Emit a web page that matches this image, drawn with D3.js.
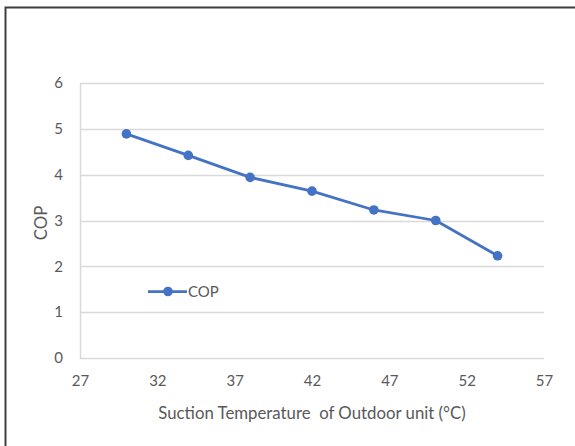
<!DOCTYPE html>
<html>
<head>
<meta charset="utf-8">
<script src="https://cdn.jsdelivr.net/npm/d3@7"></script>
<style>
  html, body { margin: 0; padding: 0; background: #fff; }
  svg { display: block; }
  text { font-family: Lato, "Open Sans", sans-serif; fill: #595959; }
</style>
</head>
<body>
<svg id="chart" width="575" height="446"></svg>
<script>
// Suction temperature of the outdoor unit (°C) and measured COP
const temperatures = [30, 34, 38, 42, 46, 50, 54];
const copValues = [4.89, 4.42, 3.94, 3.64, 3.23, 3.00, 2.23];
const xTicks = [27, 32, 37, 42, 47, 52, 57];
const yTicks = [0, 1, 2, 3, 4, 5, 6];
const seriesName = "COP";
const xTitle = "Suction Temperature  of Outdoor unit (°C)";
const yTitle = "COP";

const svg = d3.select("#chart");
const W = 575, H = 446;
const plot = { left: 80, right: 544, top: 83, bottom: 358 };
const blue = "#4472C4";
const grid = "#d9d9d9";

// Frame
svg.append("path")
  .attr("d", `M5.5,${H} L5.5,7.5 L${W},7.5`)
  .attr("fill", "none")
  .attr("stroke", "#3f3f3f")
  .attr("stroke-width", 2);

const x = d3.scaleLinear().domain([27, 57]).range([plot.left, plot.right]);
const y = d3.scaleLinear().domain([0, 6]).range([plot.bottom, plot.top]);

// Horizontal gridlines and y labels
const yAxis = d3.axisLeft(y).tickValues(yTicks).tickSize(0).tickPadding(17)
  .tickFormat(d3.format("d"));
const gy = svg.append("g").attr("transform", `translate(${plot.left},0)`).call(yAxis);
gy.select(".domain").remove();
gy.selectAll("text").style("font-size", "15px").attr("fill", "#595959")
  .style("font-family", "Lato, sans-serif");

svg.append("g").selectAll("line").data(yTicks).join("line")
  .attr("x1", plot.left).attr("x2", plot.right)
  .attr("y1", d => Math.round(y(d)) + 0.5).attr("y2", d => Math.round(y(d)) + 0.5)
  .attr("stroke", grid).attr("stroke-width", 1.5);

// Left edge of the plot area
svg.append("line")
  .attr("x1", plot.left + 0.5).attr("x2", plot.left + 0.5)
  .attr("y1", y(6)).attr("y2", y(0) + 1)
  .attr("stroke", grid).attr("stroke-width", 1.5);

// X labels
const xAxis = d3.axisBottom(x).tickValues(xTicks).tickSize(0).tickPadding(17)
  .tickFormat(d3.format("d"));
const gx = svg.append("g").attr("transform", `translate(0,${plot.bottom})`).call(xAxis);
gx.select(".domain").remove();
gx.selectAll("text").style("font-size", "15px").attr("fill", "#595959")
  .style("font-family", "Lato, sans-serif");

// Axis titles
svg.append("text")
  .attr("x", (plot.left + plot.right) / 2).attr("y", 419)
  .attr("text-anchor", "middle")
  .style("font-size", "16.8px")
  .style("white-space", "pre")
  .attr("xml:space", "preserve")
  .text(xTitle);

svg.append("text")
  .attr("transform", `translate(47,223) rotate(-90)`)
  .attr("text-anchor", "middle")
  .style("font-size", "16.8px")
  .text(yTitle);

// Series line and markers
const line = d3.line().x((d, i) => x(temperatures[i])).y(d => y(d));
svg.append("path")
  .datum(copValues)
  .attr("d", line)
  .attr("fill", "none")
  .attr("stroke", blue)
  .attr("stroke-width", 2.75)
  .attr("stroke-linejoin", "round");

svg.append("g").selectAll("circle").data(copValues).join("circle")
  .attr("cx", (d, i) => x(temperatures[i]))
  .attr("cy", d => y(d))
  .attr("r", 4.8)
  .attr("fill", blue);

// Legend
const lg = svg.append("g").attr("transform", "translate(148,291.5)");
lg.append("line").attr("x1", 0).attr("x2", 39).attr("y1", 0).attr("y2", 0)
  .attr("stroke", blue).attr("stroke-width", 2.75);
lg.append("circle").attr("cx", 20).attr("cy", 0).attr("r", 4.8).attr("fill", blue);
lg.append("text").attr("x", 40).attr("y", 0).attr("dy", "0.35em")
  .style("font-size", "15px").text(seriesName);
</script>
</body>
</html>
